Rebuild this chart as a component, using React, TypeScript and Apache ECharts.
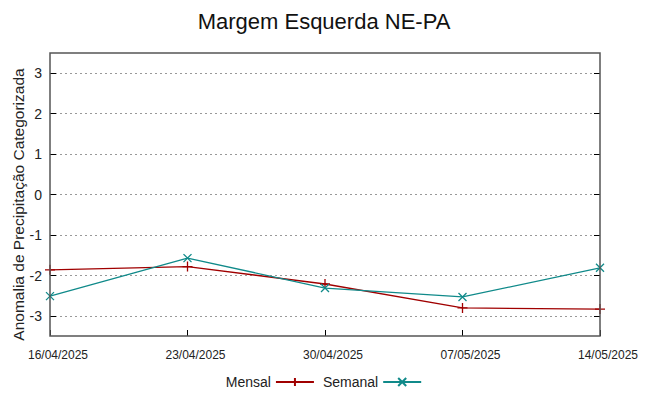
import React, { useEffect, useRef } from "react";
import * as echarts from "echarts";

const categories = ["16/04/2025", "23/04/2025", "30/04/2025", "07/05/2025", "14/05/2025"];
const mensal = [-1.86, -1.78, -2.21, -2.8, -2.83];
const semanal = [-2.51, -1.57, -2.31, -2.53, -1.81];
const yTicks = [-3, -2, -1, 0, 1, 2, 3];

const RED = "#a00000";
const TEAL = "#108a8a";
const FONT = "Liberation Sans, Arial, sans-serif";

export default function App() {
  const ref = useRef<HTMLDivElement>(null);
  useEffect(() => {
    if (!ref.current) return;
    const chart = echarts.init(ref.current, undefined, { renderer: "svg" });
    chart.setOption({
      animation: false,
      backgroundColor: "#ffffff",
      textStyle: { fontFamily: FONT },
      title: {
        text: "Margem Esquerda NE-PA",
        left: "center",
        top: 5,
        textStyle: { fontSize: 22, fontWeight: "normal", color: "#111", fontFamily: FONT },
      },
      grid: { left: 50, right: 48, top: 73, bottom: 80, outerBoundsMode: "none", containLabel: false },
      legend: {
        bottom: 2,
        left: "center",
        align: "right",
        itemWidth: 38,
        itemHeight: 10,
        itemGap: 8,
        textStyle: { fontSize: 14, color: "#222", fontFamily: FONT },
        data: ["Mensal", "Semanal"],
      },
      xAxis: {
        type: "category",
        data: categories,
        boundaryGap: false,
        offset: 20,
        axisLine: { show: false, onZero: false },
        axisTick: { show: true, inside: true, length: 6, alignWithLabel: true, interval: 0, lineStyle: { color: "#000" } },
        axisLabel: { fontSize: 12, color: "#222", margin: 13, interval: 0, padding: [0, 0, 0, 16], fontFamily: FONT },
        splitLine: { show: false },
      },
      yAxis: [
        {
          type: "value",
          min: yTicks[0],
          max: yTicks[yTicks.length - 1],
          interval: 1,
          name: "Anomalia de Precipitação Categorizada",
          nameLocation: "middle",
          nameGap: 24,
          nameMoveOverlap: false,
          nameTextStyle: { fontSize: 15.5, color: "#222", fontFamily: FONT, padding: [0, 20, 0, 0] },
          axisLine: { show: false, onZero: false },
          axisTick: { show: true, inside: true, length: 6, lineStyle: { color: "#000" } },
          axisLabel: { fontSize: 14, color: "#222", margin: 8, fontFamily: FONT },
          splitLine: { show: true, lineStyle: { color: "#999", type: [2, 3], width: 1 } },
        },
        {
          type: "value",
          position: "right",
          min: yTicks[0],
          max: yTicks[yTicks.length - 1],
          interval: 1,
          axisLine: { show: false, onZero: false },
          axisTick: { show: true, inside: true, length: 6, lineStyle: { color: "#000" } },
          axisLabel: { show: false },
          splitLine: { show: false },
        },
      ],
      graphic: [
        {
          type: "rect",
          shape: { x: 50, y: 53, width: 550, height: 283 },
          style: { fill: "none", stroke: "#555", lineWidth: 1.5 },
          silent: true,
          z: 100,
        },
      ],
      series: [
        {
          name: "Mensal",
          type: "line",
          data: mensal,
          symbol: "path://M0,5L10,5M5,0L5,10",
          symbolSize: 10,
          showAllSymbol: true,
          lineStyle: { color: RED, width: 1.3 },
          itemStyle: { color: RED, borderColor: RED, borderWidth: 1.3 },
          z: 3,
        },
        {
          name: "Semanal",
          type: "line",
          data: semanal,
          symbol: "path://M0,0L10,10M10,0L0,10",
          symbolSize: 8,
          showAllSymbol: true,
          lineStyle: { color: TEAL, width: 1.3 },
          itemStyle: { color: TEAL, borderColor: TEAL, borderWidth: 1.3 },
          z: 4,
        },
      ],
    });
    return () => chart.dispose();
  }, []);
  return <div ref={ref} style={{ width: 648, height: 396, position: "absolute", left: 0, top: 0 }} />;
}
